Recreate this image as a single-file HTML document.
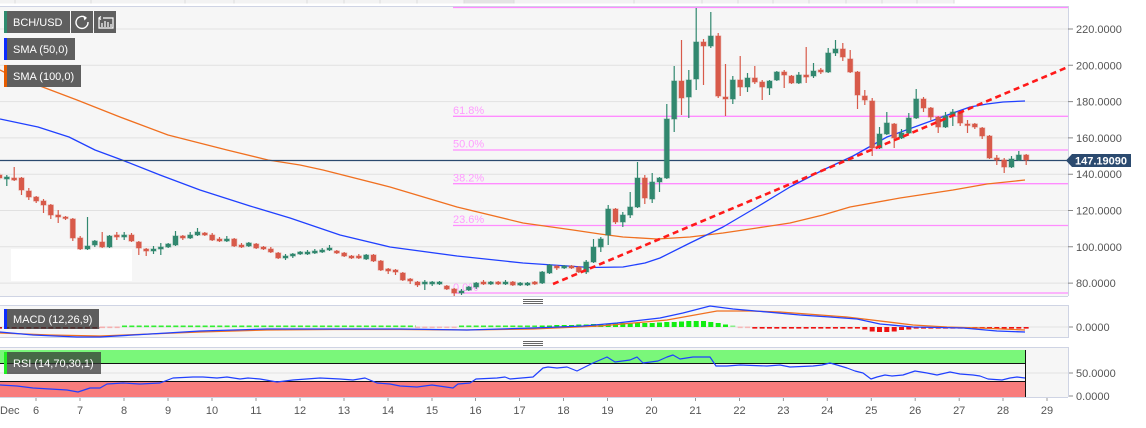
<!DOCTYPE html>
<html><head><meta charset="utf-8"><style>
html,body{margin:0;padding:0;background:#fff;}
svg{display:block;font-family:"Liberation Sans",Arial,sans-serif;}
</style></head><body>
<svg width="1146" height="428" viewBox="0 0 1146 428" xmlns="http://www.w3.org/2000/svg">
<rect x="0" y="0" width="1146" height="428" fill="#fff"/>
<!-- top strip -->
<rect x="0" y="0" width="954" height="3.5" fill="#f3f3f3"/>
<rect x="464" y="0" width="50" height="3.5" fill="#e4e4e4"/>
<path d="M15 0V3.5M91 0V3.5M185 0V3.5M234 0V3.5M307 0V3.5M344 0V3.5M380 0V3.5M417 0V3.5M464 0V3.5M514 0V3.5M634 0V3.5M702 0V3.5M738 0V3.5M773 0V3.5M809 0V3.5M846 0V3.5M882 0V3.5M917 0V3.5M954 0V3.5" stroke="#dcdcdc" stroke-width="1"/>
<!-- main panel -->
<rect x="0" y="6" width="1068" height="290" fill="#f6f6f6"/>
<g stroke="#e1e1e1" stroke-width="1">
<path d="M0 29H1068M0 65.3H1068M0 101.6H1068M0 137.9H1068M0 174.2H1068M0 210.5H1068M0 246.8H1068M0 283.1H1068"/>
</g>
<path d="M0 6.5H1068M1068.5 6V296M0 296.5H1068" stroke="#cfd4e4" fill="none"/>
<!-- y axis ticks & labels -->
<g stroke="#888"><path d="M1068 29H1073M1068 65.3H1073M1068 101.6H1073M1068 137.9H1073M1068 174.2H1073M1068 210.5H1073M1068 246.8H1073M1068 283.1H1073M1068 327H1073M1068 373H1073M1068 396H1073"/></g>
<g fill="#555" font-size="11">
<text x="1076" y="33">220.0000</text>
<text x="1076" y="69.3">200.0000</text>
<text x="1076" y="105.6">180.0000</text>
<text x="1076" y="141.9">160.0000</text>
<text x="1076" y="178.2">140.0000</text>
<text x="1076" y="214.5">120.0000</text>
<text x="1076" y="250.8">100.0000</text>
<text x="1076" y="287.1">80.0000</text>
<text x="1076" y="331">0.0000</text>
<text x="1076" y="377">50.0000</text>
<text x="1076" y="400">0.0000</text>
</g>
<!-- fib -->
<g stroke="#ff8cff" stroke-width="1.3">
<path d="M453 7.5H1068M453 116.3H1068M453 150H1068M453 183.7H1068M453 225.5H1068M453 293H1068"/>
</g>
<g fill="#ff9cff" font-size="11">
<text x="453" y="114">61.8%</text>
<text x="453" y="147.7">50.0%</text>
<text x="453" y="181.4">38.2%</text>
<text x="453" y="223.2">23.6%</text>
<text x="453" y="291">0.0%</text>
</g>
<!-- white box -->
<rect x="11" y="249" width="121" height="32" fill="#fff"/>
<!-- SMAs -->
<polyline fill="none" stroke="#f07020" stroke-width="1.3" stroke-linejoin="round" points="0,70 4,72 40,86 77,100 120,117 168,135 227,150 268,160 300,165 323,170 390,187 457,207 523,223 573,230 600,234 623,237 657,239 690,237 723,233 757,228 790,223 823,215 850,207 900,198 953,190 987,184 1025,180"/>
<polyline fill="none" stroke="#2040ff" stroke-width="1.3" stroke-linejoin="round" points="0,119 38,127 69,137 95,150 122,160 160,175 200,190 250,206 290,218 340,235 390,247 457,256 523,263 590,267.5 623,267 645,263 660,258 690,243 723,227 757,207 790,187 823,170 853,156 887,137 920,125 953,113 970,107 987,104 1003,102 1025,101"/>
<!-- current price line -->
<path d="M0 160.5H1068" stroke="#2b4a6f" stroke-width="1.2"/>
<!-- candles green -->
<g stroke="#31886f" stroke-width="1.2" fill="none">
<path d="M6.8 175V186M87.5 217V250M94.8 240V247M109.5 235V248M124.2 232V240M153.5 246V254M160.8 243V255M168.2 243V248M175.5 231V246M190.2 232V239M197.5 228V236M226.8 236V242M248.8 242V247M285.5 254V260M292.8 253V258M300.2 251V255M307.5 250V255M314.8 249V254M322.2 248V253M329.5 245V251M366.2 254V260M424.8 280V290M432.2 281V286M439.5 281V285M461.5 289V295M468.8 286V291M476.2 282V289M490.8 281V285M505.5 280V285M520.2 282V286M527.5 282V286M542.2 271V284M549.5 264V274M564.2 265V269M586.2 260V274M593.5 239V263M600.8 237V252M608.2 205V245M622.8 212V227M630.2 192V218M637.5 162V208M652.2 173V203M659.5 177V192M666.8 104V179M674.2 66V132M688.8 70V118M696.2 8V90M710.8 12V48M732.8 76V104M747.5 73V92M769.5 80V95M776.8 71V81M798.8 72V84M813.5 63V78M828.2 48V73M835.5 40V56M879.5 127V149M886.8 112V135M901.5 129V139M908.8 113V134M916.2 89V119M945.5 112V128M952.8 109V126M1011.5 156V168M1018.8 151V161"/>
</g>
<g fill="#31886f" stroke="#31886f" stroke-opacity="0.4" stroke-width="1.2">
<path d="M4.3 177h5v2h-5zM85 246h5v3h-5zM92.3 241h5v4h-5zM107 236h5v11h-5zM121.7 235h5v2h-5zM151 249h5v2h-5zM158.3 247h5v2h-5zM165.7 244h5v3h-5zM173 236h5v9h-5zM187.7 235h5v3h-5zM195 232h5v3h-5zM224.3 239h5v2h-5zM246.3 243h5v3h-5zM283 256h5v2h-5zM290.3 254h5v2h-5zM297.7 252h5v2h-5zM305 252h5v2h-5zM312.3 251h5v2h-5zM319.7 250h5v2h-5zM327 248h5v2h-5zM363.7 255h5v4h-5zM422.3 282h5v2h-5zM429.7 282h5v2h-5zM437 282h5v2h-5zM459 291h5v2h-5zM466.3 287h5v3h-5zM473.7 283h5v4h-5zM488.3 282h5v2h-5zM503 282h5v2h-5zM517.7 283h5v2h-5zM525 283h5v2h-5zM539.7 272h5v11h-5zM547 265h5v8h-5zM561.7 266h5v2h-5zM583.7 262h5v10h-5zM591 247h5v15h-5zM598.3 239h5v8h-5zM605.7 209h5v26h-5zM620.3 215h5v7h-5zM627.7 207h5v8h-5zM635 178h5v29h-5zM649.7 182h5v17h-5zM657 178h5v4h-5zM664.3 119h5v59h-5zM671.7 81h5v38h-5zM686.3 80h5v17h-5zM693.7 42h5v37h-5zM708.3 36h5v10h-5zM730.3 80h5v19h-5zM745 78h5v9h-5zM767 81h5v7h-5zM774.3 72h5v8h-5zM796.3 75h5v8h-5zM811 71h5v5h-5zM825.7 53h5v19h-5zM833 49h5v4h-5zM877 134h5v14h-5zM884.3 123h5v11h-5zM899 133h5v5h-5zM906.3 118h5v15h-5zM913.7 99h5v19h-5zM943 116h5v11h-5zM950.3 112h5v4h-5zM1009 159h5v8h-5zM1016.3 155h5v5h-5z"/>
</g>
<!-- candles red -->
<g stroke="#d85a4a" stroke-width="1.2" fill="none">
<path d="M-0.5 173V180M14.2 167V181M21.5 177V195M28.8 188V200M36.2 196V203M43.5 199V213M50.8 204V219M58.2 210V223M65.5 216V220M72.8 218V241M80.2 236V250M102.2 232V248M116.8 232V240M131.5 233V242M138.8 241V255M146.2 248V256M182.8 235V240M204.8 232V236M212.2 233V241M219.5 237V242M234.2 238V247M241.5 243V248M256.2 243V249M263.5 246V250M270.8 247V253M278.2 252V259M336.8 250V254M344.2 252V257M351.5 255V259M358.8 254V259M373.5 254V262M380.8 260V271M388.2 268V274M395.5 269V275M402.8 272V281M410.2 278V284M417.5 281V287M446.8 285V290M454.2 288V296M483.5 280V285M498.2 281V285M512.8 281V286M534.8 281V285M556.8 265V270M571.5 265V269M578.8 266V273M615.5 208V224M644.8 175V204M681.5 40V115M703.5 39V85M718.2 33V98M725.5 64V116M740.2 56V96M754.8 66V84M762.2 80V100M784.2 70V88M791.5 75V84M806.2 47V83M820.8 68V74M842.8 43V61M850.2 50V73M857.5 71V109M864.8 90V105M872.2 98V156M894.2 123V148M923.5 97V112M930.8 107V120M938.2 116V133M960.2 111V126M967.5 120V133M974.8 123V129M982.2 127V139M989.5 135V159M996.8 155V165M1004.2 158V173M1026.2 154V165"/>
</g>
<g fill="#d85a4a" stroke="#d85a4a" stroke-opacity="0.4" stroke-width="1.2">
<path d="M-3 175h5v3h-5zM11.7 178h5v2h-5zM19 178h5v12h-5zM26.3 191h5v6h-5zM33.7 197h5v4h-5zM41 201h5v4h-5zM48.3 205h5v10h-5zM55.7 215h5v2h-5zM63 217h5v1.5h-5zM70.3 219h5v19h-5zM77.7 238h5v11h-5zM99.7 242h5v5h-5zM114.3 235h5v2h-5zM129 235h5v6h-5zM136.3 242h5v6h-5zM143.7 249h5v2h-5zM180.3 236h5v2h-5zM202.3 233h5v2h-5zM209.7 235h5v5h-5zM217 239h5v2h-5zM231.7 239h5v7h-5zM239 245h5v2h-5zM253.7 244h5v4h-5zM261 247h5v2h-5zM268.3 249h5v3h-5zM275.7 253h5v5h-5zM334.3 251h5v2h-5zM341.7 253h5v3h-5zM349 256h5v2h-5zM356.3 256h5v2h-5zM371 255h5v6h-5zM378.3 261h5v9h-5zM385.7 269h5v2h-5zM393 270h5v2h-5zM400.3 273h5v7h-5zM407.7 279h5v2h-5zM415 282h5v3h-5zM444.3 286h5v3h-5zM451.7 289h5v4h-5zM481 282h5v2h-5zM495.7 282h5v2h-5zM510.3 282h5v3h-5zM532.3 282h5v2h-5zM554.3 266h5v2h-5zM569 266h5v2h-5zM576.3 267h5v5h-5zM613 209h5v13h-5zM642.3 178h5v20h-5zM679 81h5v17h-5zM701 42h5v4h-5zM715.7 36h5v60h-5zM723 97h5v2h-5zM737.7 80h5v7h-5zM752.3 78h5v4h-5zM759.7 82h5v5h-5zM781.7 72h5v3h-5zM789 76h5v7h-5zM803.7 75h5v2h-5zM818.3 70h5v2h-5zM840.3 49h5v8h-5zM847.7 59h5v13h-5zM855 72h5v23h-5zM862.3 96h5v4h-5zM869.7 101h5v47h-5zM891.7 124h5v14h-5zM921 99h5v9h-5zM928.3 108h5v9h-5zM935.7 117h5v10h-5zM957.7 112h5v11h-5zM965 124h5v1.5h-5zM972.3 124h5v3h-5zM979.7 128h5v8h-5zM987 136h5v22h-5zM994.3 158h5v2h-5zM1001.7 160h5v7h-5zM1023.7 155h5v5h-5z"/>
</g>
<!-- trendline -->
<path d="M553 284L1068 67" stroke="#ff1a1a" stroke-width="2.6" stroke-dasharray="6 4" fill="none"/>
<!-- price label -->
<path d="M1066 160.5L1072 154H1131V167H1072Z" fill="#2b4a6f"/>
<text x="1075" y="164.6" fill="#fff" font-size="11" font-weight="bold">147.19090</text>
<!-- legend -->
<rect x="4" y="11" width="66" height="22" fill="#5f5f5f"/>
<rect x="4" y="11" width="3" height="22" fill="#2e8b6e"/>
<text x="13" y="26" fill="#fff" font-size="11">BCH/USD</text>
<rect x="71" y="11" width="22" height="22" fill="#5f5f5f"/>
<path d="M85.5 17.5A6 6 0 1 0 88 22" stroke="#fff" stroke-width="1.4" fill="none"/>
<path d="M83 15.5L87 17.8L84.5 20.5Z" fill="#fff"/>
<rect x="94" y="11" width="22" height="22" fill="#5f5f5f"/>
<path d="M99 18V28H113V18H103M101 16.5L99 18L101 19.5M102 27V23M105 27V21M108 27V22M111 27V24" stroke="#fff" stroke-width="1.2" fill="none"/>
<rect x="4" y="38" width="71" height="22" fill="#5f5f5f"/>
<rect x="4" y="38" width="3" height="22" fill="#0a2bff"/>
<text x="13" y="53" fill="#fff" font-size="11">SMA (50,0)</text>
<rect x="4" y="65" width="77" height="22" fill="#5f5f5f"/>
<rect x="4" y="65" width="3" height="22" fill="#e65c00"/>
<text x="13" y="80" fill="#fff" font-size="11">SMA (100,0)</text>
<!-- handles -->
<path d="M523 299.5H543M523 301.5H543M523 303.5H543M523 341.5H543M523 343.5H543M523 345.5H543" stroke="#666" stroke-width="0.9"/>
<!-- MACD panel -->
<rect x="0" y="305" width="1068" height="33" fill="#f6f6f6"/>
<path d="M0 305.5H1068M0 337.5H1068M1068.5 305V338" stroke="#cfd4e4" fill="none"/>
<path d="M0 327H1068" stroke="#e1e1e1"/>
<g stroke-width="1.6" stroke-dasharray="5 2.33" fill="none">
<path d="M-3 327.8H100" stroke="#c02020"/>
<path d="M100 327.3H122" stroke="#f4b0b0"/>
<path d="M122 326.3H416" stroke="#33ee33"/>
<path d="M415 327.3H458" stroke="#f4b8b8"/>
<path d="M459 326.3H537" stroke="#33ee33"/>
<path d="M737.7 327.3H752" stroke="#f4b8b8"/>
<path d="M752.3 327.8H862" stroke="#ee1111"/>
<path d="M913.7 327.8H1029" stroke="#ee1111"/>
</g>
<g fill="#11ee11">
<rect x="539.7" y="325.5" width="5" height="1.5"/><rect x="547" y="325.5" width="5" height="1.5"/><rect x="554.3" y="325" width="5" height="2"/><rect x="561.7" y="325" width="5" height="2"/><rect x="569" y="325" width="5" height="2"/><rect x="576.3" y="324.5" width="5" height="2.5"/><rect x="583.7" y="324.5" width="5" height="2.5"/><rect x="591" y="324" width="5" height="3"/><rect x="598.3" y="324" width="5" height="3"/><rect x="605.7" y="323.5" width="5" height="3.5"/><rect x="613" y="323.5" width="5" height="3.5"/><rect x="620.3" y="323" width="5" height="4"/><rect x="627.7" y="323" width="5" height="4"/><rect x="635" y="323" width="5" height="4"/><rect x="642.3" y="323" width="5" height="4"/><rect x="649.7" y="323" width="5" height="4"/><rect x="657" y="322.5" width="5" height="4.5"/><rect x="664.3" y="322" width="5" height="5"/><rect x="671.7" y="322" width="5" height="5"/><rect x="679" y="321.5" width="5" height="5.5"/><rect x="686.3" y="321" width="5" height="6"/><rect x="693.7" y="321" width="5" height="6"/><rect x="701" y="321" width="5" height="6"/><rect x="708.3" y="322" width="5" height="5"/><rect x="715.7" y="323" width="5" height="4"/><rect x="723" y="324.5" width="5" height="2.5"/><rect x="730.3" y="325.5" width="5" height="1.5" fill="#88ee88"/>
</g>
<g fill="#ee1111">
<rect x="862.3" y="327" width="5" height="2.5"/><rect x="869.7" y="327" width="5" height="4.5"/><rect x="877" y="327" width="5" height="5"/><rect x="884.3" y="327" width="5" height="5"/><rect x="891.7" y="327" width="5" height="4.5"/><rect x="899" y="327" width="5" height="3"/><rect x="906.3" y="327" width="5" height="2.5"/>
</g>
<polyline fill="none" stroke="#f07020" stroke-width="1.3" points="0,333 50,335 100,336 150,334 200,332 267,330 333,329.5 400,329.5 467,330 533,329 600,326 667,320 717,311 750,311 780,312 847,317 913,325 947,327 980,328 1025,330"/>
<polyline fill="none" stroke="#2040ff" stroke-width="1.3" points="0,332 33,335 77,337 100,337 133,335 167,333 200,331 267,329 333,329 400,329 467,330 533,328 583,326 617,323 660,318 683,313 710,306 733,309 767,312 800,315 830,317 857,319 880,324 913,327 963,328 997,331 1025,332"/>
<rect x="4" y="309" width="95" height="20" fill="rgba(50,50,50,0.78)"/>
<rect x="4" y="309" width="3" height="20" fill="#0a2bff"/>
<text x="13" y="323" fill="#fff" font-size="11">MACD (12,26,9)</text>
<!-- RSI panel -->
<rect x="0" y="347" width="1068" height="50" fill="#f6f6f6"/>
<path d="M0 373H1068" stroke="#e1e1e1"/>
<rect x="0" y="350" width="1025" height="13.5" fill="#7af77a"/>
<rect x="0" y="381.5" width="1025" height="15.5" fill="#f87c7c"/>
<path d="M0 363.5H1025M0 381.5H1025M1025.5 350V397" stroke="#111" stroke-width="1" fill="none"/>
<path d="M0 347.5H1068M0 397.5H1068M1068.5 347V397" stroke="#cfd4e4" fill="none"/>
<polyline fill="none" stroke="#2040ff" stroke-width="1.2" stroke-linejoin="round" points="0,385 17,386 33,388 50,389 67,390 78,392 90,388 100,388 107,384 123,383 140,384 160,383 173,378 193,377 203,377 217,378 227,377 240,379 248,378 260,379 277,382 293,380 320,378 340,379 353,380 365,378 377,383 390,384 400,386 417,387 432,385 453,388 458,384 470,383 476,379 497,378 505,377 510,379 533,377 543,368 548,367 557,368 567,367 577,371 593,363 607,357 615,362 630,360 637,357 643,363 658,361 667,357 673,355 680,359 693,357 710,357 716,366 727,366 740,365 767,366 780,365 790,367 813,366 822,365 830,363 837,365 847,368 855,371 863,373 871,379 877,377 885,375 892,376 903,375 915,371 927,373 937,375 950,372 960,374 973,375 980,376 988,379 1002,380 1010,378 1017,377 1025,378"/>
<rect x="4" y="352" width="97" height="22" fill="rgba(50,50,50,0.72)"/>
<rect x="4" y="352" width="3" height="22" fill="#22ee22"/>
<text x="13" y="367" fill="#fff" font-size="11">RSI (14,70,30,1)</text>
<!-- x axis -->
<path d="M36 398V401M80 398V401M124 398V401M168 398V401M212 398V401M256 398V401M300 398V401M344 398V401M388 398V401M432 398V401M475.5 398V401M519.5 398V401M563.5 398V401M607.5 398V401M651.5 398V401M695.5 398V401M739.5 398V401M783.4 398V401M827.3 398V401M871.3 398V401M915.2 398V401M959.2 398V401M1003 398V401M1047 398V401" stroke="#999"/>
<g fill="#555" font-size="11" text-anchor="middle">
<text x="0" y="414" text-anchor="start">Dec</text>
<text x="36" y="414">6</text><text x="80" y="414">7</text><text x="124" y="414">8</text><text x="168" y="414">9</text><text x="212" y="414">10</text><text x="256" y="414">11</text><text x="300" y="414">12</text><text x="344" y="414">13</text><text x="388" y="414">14</text><text x="432" y="414">15</text><text x="475.5" y="414">16</text><text x="519.5" y="414">17</text><text x="563.5" y="414">18</text><text x="607.5" y="414">19</text><text x="651.5" y="414">20</text><text x="695.5" y="414">21</text><text x="739.5" y="414">22</text><text x="783.4" y="414">23</text><text x="827.3" y="414">24</text><text x="871.3" y="414">25</text><text x="915.2" y="414">26</text><text x="959.2" y="414">27</text><text x="1003" y="414">28</text><text x="1047" y="414">29</text>
</g>
</svg>
</body></html>
